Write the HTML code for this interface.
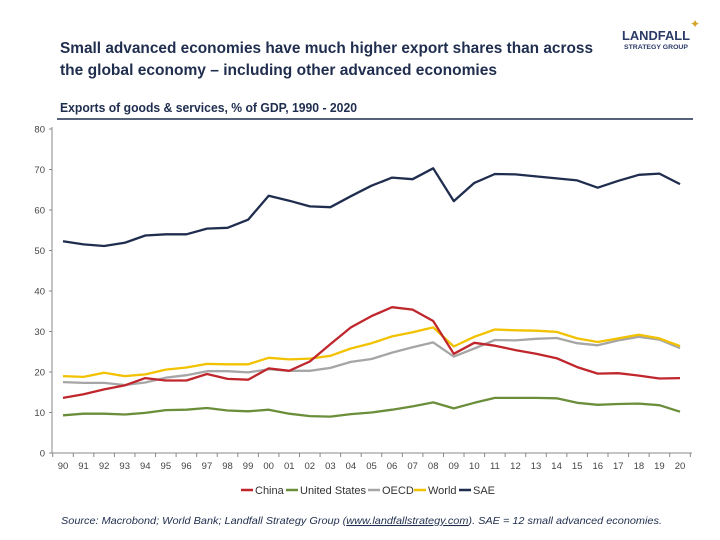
<!DOCTYPE html>
<html><head><meta charset="utf-8"><style>
body{margin:0;background:#fff;font-family:"Liberation Sans",sans-serif}
#c{position:relative;width:720px;height:540px;overflow:hidden}
</style></head><body>
<div id="c">
<svg width="720" height="540" style="position:absolute;left:0;top:0">
<text x="60" y="53" font-size="16" font-weight="bold" fill="#1f2d4e" textLength="533" lengthAdjust="spacingAndGlyphs">Small advanced economies have much higher export shares than across</text>
<text x="60" y="75" font-size="16" font-weight="bold" fill="#1f2d4e" textLength="437" lengthAdjust="spacingAndGlyphs">the global economy – including other advanced economies</text>
<g>
<text x="622" y="40" font-size="13" font-weight="bold" fill="#2b3a67" textLength="68" lengthAdjust="spacingAndGlyphs">LANDFALL</text>
<text x="624" y="49" font-size="6.5" font-weight="bold" fill="#2b3a67" textLength="64" lengthAdjust="spacingAndGlyphs">STRATEGY GROUP</text>
<text x="695" y="28" font-size="12" fill="#d4a52a" text-anchor="middle">✦</text>
</g>
<text x="60" y="112" font-size="12.5" font-weight="bold" fill="#1f2d4e" textLength="297" lengthAdjust="spacingAndGlyphs">Exports of goods &amp; services, % of GDP, 1990 - 2020</text>
<line x1="57" y1="119" x2="693" y2="119" stroke="#1f2d4e" stroke-width="1.5"/>
<g id="axes"></g><g id="series"></g>
<g font-size="11" fill="#333" id="legend"></g>
<text x="61" y="524" font-size="10.5" font-style="italic" fill="#1f2d4e" textLength="601" lengthAdjust="spacingAndGlyphs">Source: Macrobond; World Bank; Landfall Strategy Group (<tspan text-decoration="underline">www.landfallstrategy.com</tspan>). SAE = 12 small advanced economies.</text>
</svg>
</div>
<script>
const years=["90","91","92","93","94","95","96","97","98","99","00","01","02","03","04","05","06","07","08","09","10","11","12","13","14","15","16","17","18","19","20"];
const yTicks=[0,10,20,30,40,50,60,70,80];
const sae=[52.3,51.5,51.1,51.9,53.7,54,54,55.4,55.6,57.6,63.5,62.3,60.9,60.7,63.4,66,68,67.6,70.3,62.2,66.7,68.9,68.8,68.3,67.8,67.3,65.5,67.2,68.7,69,66.4];
const china=[13.6,14.5,15.7,16.7,18.5,17.9,17.9,19.5,18.3,18.1,20.9,20.3,22.6,26.9,31,33.8,36,35.4,32.6,24.5,27.2,26.5,25.4,24.5,23.4,21.2,19.6,19.7,19.1,18.4,18.5];
const us=[9.3,9.7,9.7,9.5,9.9,10.6,10.7,11.1,10.5,10.3,10.7,9.7,9.1,9,9.6,10,10.7,11.5,12.5,11,12.4,13.6,13.6,13.6,13.5,12.4,11.9,12.1,12.2,11.8,10.2];
const oecd=[17.5,17.3,17.3,16.8,17.4,18.6,19.2,20.2,20.2,19.9,20.7,20.3,20.3,21,22.5,23.2,24.8,26.1,27.3,23.8,25.8,27.9,27.8,28.2,28.4,27.1,26.6,27.8,28.7,28,25.9];
const world=[19,18.8,19.8,19,19.4,20.6,21.1,22,21.9,21.9,23.5,23.1,23.3,24,25.8,27.1,28.8,29.8,31,26.3,28.7,30.5,30.3,30.2,29.9,28.3,27.4,28.3,29.2,28.3,26.4];
const seriesNames=["China","United States","OECD","World","SAE"];
const NS="http://www.w3.org/2000/svg";
const X0=63,X1=680,Y0=453,Y80=129;
const xs=i=>X0+(X1-X0)*i/(years.length-1);
const ys=v=>Y0-(Y0-Y80)*v/80;
function mk(t,a,p){const e=document.createElementNS(NS,t);for(const k in a)e.setAttribute(k,a[k]);p.appendChild(e);return e;}
const ax=document.getElementById('axes');
const yl=mk('line',{x1:52,y1:ys(80)-2,x2:52,y2:Y0,stroke:'#888'},ax);


const xl=mk('line',{x1:52,y1:Y0,x2:692,y2:Y0,stroke:'#888'},ax);


yTicks.forEach(v=>{
 mk('line',{x1:49,y1:ys(v),x2:52,y2:ys(v),stroke:'#888'},ax);
 const t=mk('text',{x:45,y:ys(v)+3.5,'font-size':9.5,fill:'#444','text-anchor':'end'},ax);t.textContent=v;
 
 
});
years.forEach((y,i)=>{
 const tx=xs(i)-10.3;
 mk('line',{x1:tx,y1:Y0,x2:tx,y2:Y0+4,stroke:'#888'},ax);
 const t=mk('text',{x:xs(i),y:Y0+16,'font-size':9.5,fill:'#444','text-anchor':'middle'},ax);t.textContent=y;
 
 
});
mk('line',{x1:xs(30)+10.3,y1:Y0,x2:xs(30)+10.3,y2:Y0+4,stroke:'#888'},ax);
const sg=document.getElementById('series');
const data=[china,us,oecd,world,sae];
const cols=['#c0272d','#6b8e3a','#a6a6a6','#f2c200','#1f2d4e'];
const nm=['china-line','united-states-line','oecd-line','world-line','sae-line'];
[2,1,3,0,4].forEach(k=>{
 const d=data[k].map((v,i)=>(i?'L':'M')+xs(i).toFixed(1)+','+ys(v).toFixed(1)).join('');
 const p=mk('path',{d:d,fill:'none',stroke:cols[k],'stroke-width':2.3,'stroke-linejoin':'round'},sg);
 
 
});
const lg=document.getElementById('legend');
const lx=[241,286,368,414,459];
seriesNames.forEach((n,k)=>{
 mk('line',{x1:lx[k],y1:490,x2:lx[k]+12,y2:490,stroke:cols[k],'stroke-width':2.5},lg);
 const t=mk('text',{x:lx[k]+14,y:494},lg);t.textContent=n;
 
 
});
</script>
</body></html>
